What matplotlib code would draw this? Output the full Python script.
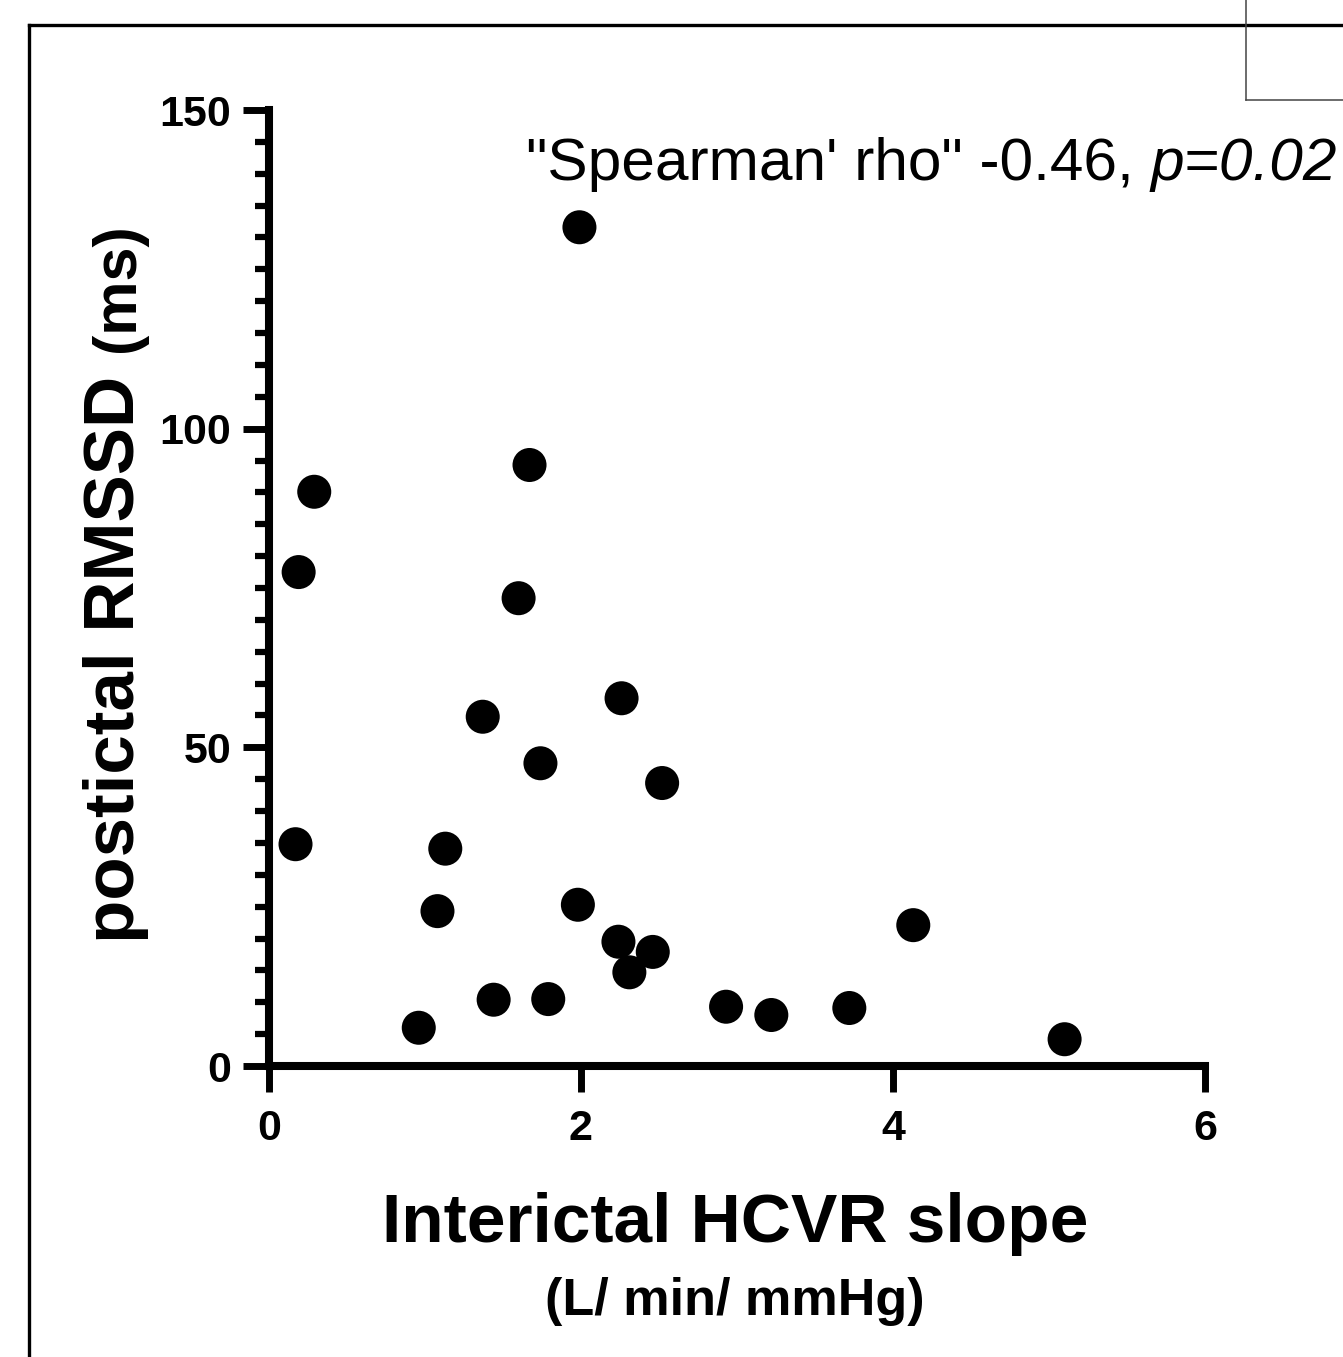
import matplotlib
matplotlib.use('Agg')
import matplotlib.pyplot as plt
from matplotlib.lines import Line2D
from matplotlib.ticker import MultipleLocator

# ----- Data ----- #
hcvr_slope = [1.99, 1.67, 0.29, 0.19, 1.60, 2.26, 1.37, 1.74, 2.52, 0.17, 1.13, 1.08,
              1.98, 2.24, 2.46, 2.31, 4.13, 1.44, 1.79, 0.96, 2.93, 3.22, 3.72, 5.10]
rmssd = [131.6, 94.3, 90.1, 77.5, 73.4, 57.7, 54.8, 47.5, 44.4, 34.8, 34.1, 24.3,
         25.3, 19.5, 17.9, 14.7, 22.1, 10.4, 10.5, 6.0, 9.3, 8.0, 9.1, 4.2]
x_ticks = [0, 2, 4, 6]
y_ticks = [0, 50, 100, 150]

W, H = 1343, 1357
plt.rcParams['font.family'] = ['Liberation Sans', 'DejaVu Sans']

fig = plt.figure(figsize=(W / 100, H / 100), dpi=100)

# axes placed in pixel coordinates of the reference
left, right, bottom, top = 269, 1205, 1066, 110
ax = fig.add_axes([left / W, 1 - bottom / H, (right - left) / W, (bottom - top) / H])
ax.patch.set_alpha(0)

ax.scatter(hcvr_slope, rmssd, s=600, color='black', edgecolors='none', zorder=3, clip_on=False)

ax.set_xlim(0, 6)
ax.set_ylim(0, 150)
ax.set_xticks(x_ticks)
ax.set_yticks(y_ticks)
ax.yaxis.set_minor_locator(MultipleLocator(5))

for side in ['top', 'right']:
    ax.spines[side].set_visible(False)
for side in ['left', 'bottom']:
    ax.spines[side].set_linewidth(5.8)
    ax.spines[side].set_capstyle('projecting')

ax.tick_params(axis='both', which='major', direction='out', length=19, width=5,
               labelsize=31)
ax.tick_params(axis='y', which='major', pad=8)
ax.tick_params(axis='x', which='major', pad=12)
ax.tick_params(axis='y', which='minor', direction='out', length=10, width=4.5)
for lbl in ax.get_xticklabels() + ax.get_yticklabels():
    lbl.set_fontweight('bold')

# axis titles
fig.text(735 / W, 1 - 1242 / H, 'Interictal HCVR slope', fontsize=50, fontweight='bold',
         ha='center', va='baseline')
fig.text(735 / W, 1 - 1315 / H, '(L/ min/ mmHg)', fontsize=37.5, fontweight='bold',
         ha='center', va='baseline')
fig.text(134 / W, 1 - 943 / H, 'postictal RMSSD', fontsize=51, fontweight='bold',
         rotation=90, rotation_mode='anchor', ha='left', va='baseline')
fig.text(134 / W, 1 - 352 / H, '(ms)', fontsize=44, fontweight='bold',
         rotation=90, rotation_mode='anchor', ha='left', va='baseline')

# correlation annotation, p-value in italics
t1 = fig.text(1337 / W, 1 - 180 / H, 'p=0.02', fontsize=43.5, style='italic',
              ha='right', va='baseline')
fig.canvas.draw()
bb = t1.get_window_extent()
fig.text(bb.x0 / W, 1 - 180 / H, '"Spearman\' rho" -0.46, ', fontsize=43.5,
         ha='right', va='baseline')

# outer frame and the small corner box
fig.add_artist(Line2D([29 / W, 1], [1 - 25 / H, 1 - 25 / H], color='black', lw=2.4))
fig.add_artist(Line2D([29 / W, 29 / W], [0, 1 - 25 / H], color='black', lw=2.4))
fig.add_artist(Line2D([1246 / W, 1246 / W], [1, 1 - 100 / H], color='#444444', lw=1.1))
fig.add_artist(Line2D([1246 / W, 1], [1 - 100 / H, 1 - 100 / H], color='#444444', lw=1.1))

fig.savefig('out.png', dpi=100)
